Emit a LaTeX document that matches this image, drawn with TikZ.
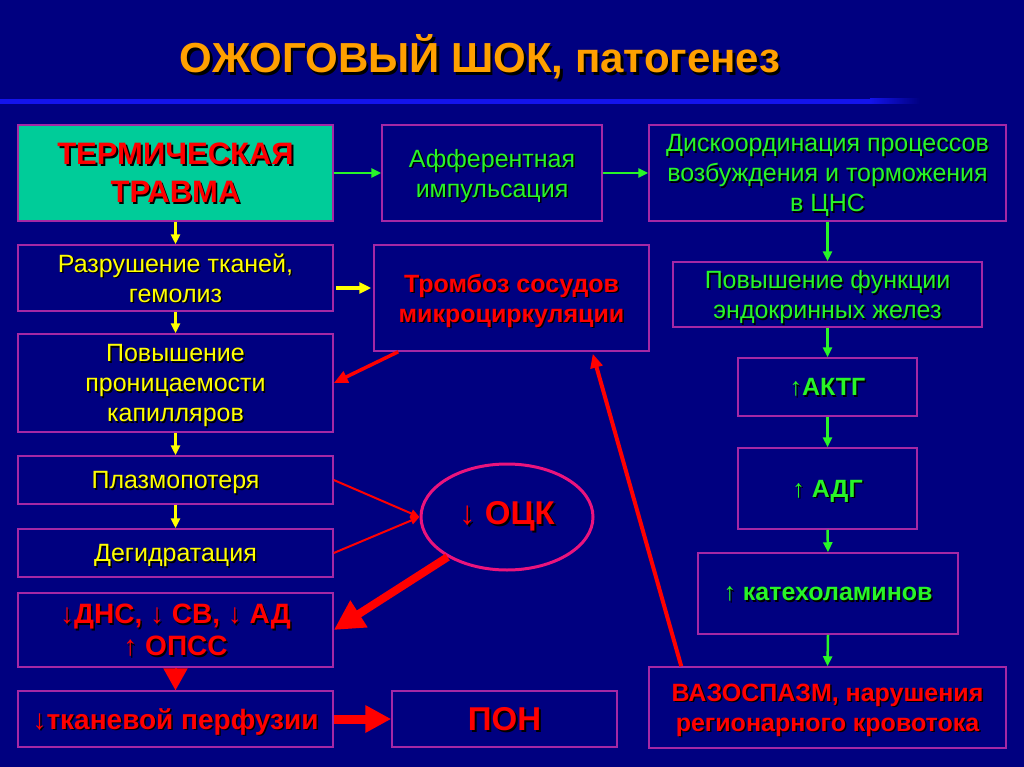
\documentclass[tikz,border=0pt]{standalone}
\usepackage{fontspec}
\setmainfont{Liberation Sans}
\usetikzlibrary{arrows.meta,shapes.geometric}
\definecolor{bgc}{RGB}{0,0,128}
\definecolor{linec}{RGB}{20,20,235}
\definecolor{boxc}{RGB}{165,40,165}
\definecolor{ellc}{RGB}{235,20,125}
\definecolor{tealc}{RGB}{0,204,153}
\definecolor{yelc}{RGB}{255,255,0}
\definecolor{grnc}{RGB}{40,245,40}
\definecolor{redc}{RGB}{255,0,0}
\definecolor{orc}{RGB}{255,160,0}
\newdimen\shoff \shoff=1.5pt
\newcommand\txsh[1]{\leavevmode\rlap{\kern\shoff\raisebox{-\shoff}{\color{black}#1}}#1}
\newcommand\dnar{{\mdseries ↓}}
\newcommand\upar{{\mdseries ↑}}
\tikzset{
  box/.style={draw=boxc, line width=1.5pt, rectangle, align=center, inner sep=0pt,
    text depth=0pt, font=\fontsize{25}{30}\selectfont},
  ytext/.style={text=yelc},
  gtext/.style={text=grnc},
  rtext/.style={text=redc, font=\fontsize{25}{30}\selectfont\bfseries},
  garrow/.style={draw=grnc, line width=2.5pt, -{Triangle[length=10pt,width=9pt]}},
  yarrow/.style={draw=yelc, line width=2.5pt, -{Triangle[length=10pt,width=9pt]}},
  rthin/.style={draw=redc, line width=3.5pt, -{Triangle[length=14pt,width=12pt]}},
}
\begin{document}
\begin{tikzpicture}[x=1pt,y=-1pt]
\useasboundingbox (0,0) rectangle (1024,767);
\fill[bgc] (0,0) rectangle (1024,767);
\fill[linec] (0,99) rectangle (870,104);
\shade[left color=linec,right color=bgc] (870,99) rectangle (920,104);

\node[text=orc, font=\fontsize{42}{50}\selectfont\bfseries, anchor=base] (title) at (480,73)
  {\shoff=2.5pt\txsh{ОЖОГОВЫЙ ШОК, патогенез}};

% left column
\node[box, fill=tealc, text=redc, font=\fontsize{31}{38}\selectfont\bfseries,
  minimum width=315pt, minimum height=96pt] (trauma) at (175.5,173)
  {\shoff=2pt\txsh{ТЕРМИЧЕСКАЯ}\\\txsh{ТРАВМА}};
\node[box, ytext, minimum width=315pt, minimum height=66pt] (razr) at (175.5,278)
  {\txsh{Разрушение тканей,}\\\txsh{гемолиз}};
\node[box, ytext, minimum width=315pt, minimum height=98pt] (pov) at (175.5,383)
  {\txsh{Повышение}\\\txsh{проницаемости}\\\txsh{капилляров}};
\node[box, ytext, minimum width=315pt, minimum height=48pt] (plaz) at (175.5,480)
  {\txsh{Плазмопотеря}};
\node[box, ytext, minimum width=315pt, minimum height=48pt] (deg) at (175.5,553)
  {\txsh{Дегидратация}};
\node[box, rtext, font=\fontsize{28}{32}\selectfont\bfseries,
  minimum width=315pt, minimum height=74pt] (dns) at (175.5,630)
  {\txsh{\dnar ДНС, \dnar\ СВ, \dnar\ АД}\\\txsh{\upar\ ОПСС}};
\node[box, rtext, font=\fontsize{28}{32}\selectfont\bfseries,
  minimum width=315pt, minimum height=56pt] (tkan) at (175.5,719)
  {\txsh{\dnar тканевой перфузии}};
\node[box, rtext, font=\fontsize{33}{40}\selectfont\bfseries,
  minimum width=225pt, minimum height=56pt] (pon) at (504.5,719)
  {\shoff=2pt\txsh{ПОН}};

% middle
\node[box, gtext, minimum width=220pt, minimum height=96pt] (aff) at (492,173)
  {\txsh{Афферентная}\\\txsh{импульсация}};
\node[box, rtext, minimum width=275pt, minimum height=106pt] (tromb) at (511.5,298)
  {\txsh{Тромбоз сосудов}\\\txsh{микроциркуляции}};
\node[ellipse, draw=ellc, line width=3pt, inner sep=0pt, minimum width=172pt,
  minimum height=106pt, text=redc, font=\fontsize{33}{40}\selectfont\bfseries] (ock) at (507,517)
  {\shoff=2pt\txsh{\dnar\ ОЦК}};

% right column
\node[box, gtext, minimum width=357pt, minimum height=96pt] (disc) at (827.5,173)
  {\txsh{Дискоординация процессов}\\\txsh{возбуждения и торможения}\\\txsh{в ЦНС}};
\node[box, gtext, minimum width=309pt, minimum height=65pt] (endo) at (827.5,294.5)
  {\txsh{Повышение функции}\\\txsh{эндокринных желез}};
\node[box, gtext, font=\fontsize{25}{30}\selectfont\bfseries,
  minimum width=179pt, minimum height=58pt] (aktg) at (827.5,387)
  {\txsh{\upar АКТГ}};
\node[box, gtext, font=\fontsize{25}{30}\selectfont\bfseries,
  minimum width=179pt, minimum height=81pt] (adg) at (827.5,488.5)
  {\txsh{\upar\ АДГ}};
\node[box, gtext, font=\fontsize{25}{30}\selectfont\bfseries,
  minimum width=260pt, minimum height=81pt] (kat) at (828,593.5)
  {\txsh{\upar\ катехоламинов}};
\node[box, rtext, minimum width=357pt, minimum height=81pt] (vaz) at (827.5,707.5)
  {\txsh{ВАЗОСПАЗМ, нарушения}\\\txsh{регионарного кровотока}};

% green connectors
\draw[garrow] (trauma.east) -- (aff.west);
\draw[garrow] (aff.east) -- (disc.west);
\draw[garrow] (disc.south) -- (endo.north);
\draw[garrow] (endo.south) -- (aktg.north);
\draw[garrow] (aktg.south) -- (adg.north);
\draw[garrow] (adg.south) -- (kat.north);
\draw[garrow] (kat.south) -- (vaz.north);

% yellow connectors
\draw[yarrow] (trauma.south) -- (razr.north);
\draw[yarrow] (razr.south) -- (pov.north);
\draw[yarrow] (pov.south) -- (plaz.north);
\draw[yarrow] (plaz.south) -- (deg.north);
\draw[draw=yelc, line width=3.5pt, -{Triangle[length=12pt,width=11pt]}]
  ([xshift=2pt,yshift=-10pt]razr.east) -- ([xshift=-2pt,yshift=-10pt]razr.east -| tromb.west);

% red connectors
\draw[rthin] ([xshift=25pt]tromb.south west) -- (pov.east);
\draw[draw=redc, line width=4pt, -{Triangle[length=14pt,width=12pt]}]
  ([xshift=33pt]vaz.north west) -- ([xshift=-57pt,yshift=-2pt]tromb.south east);
\draw[draw=redc, line width=2pt, -{Triangle[length=9pt,width=8pt]}] (plaz.east) -- (ock.west);
\draw[draw=redc, line width=2pt, -{Triangle[length=9pt,width=8pt]}] (deg.east) -- (ock.west);
\draw[draw=redc, line width=8pt, -{Triangle[length=30pt,width=30pt]}] (ock.214) -- (dns.east);
\draw[draw=redc, line width=2pt, -{Triangle[length=22pt,width=24pt]}] (dns.south) -- (tkan.north);
\draw[draw=redc, line width=9pt, -{Triangle[length=26pt,width=26pt]}] (tkan.east) -- (pon.west);
\end{tikzpicture}
\end{document}
